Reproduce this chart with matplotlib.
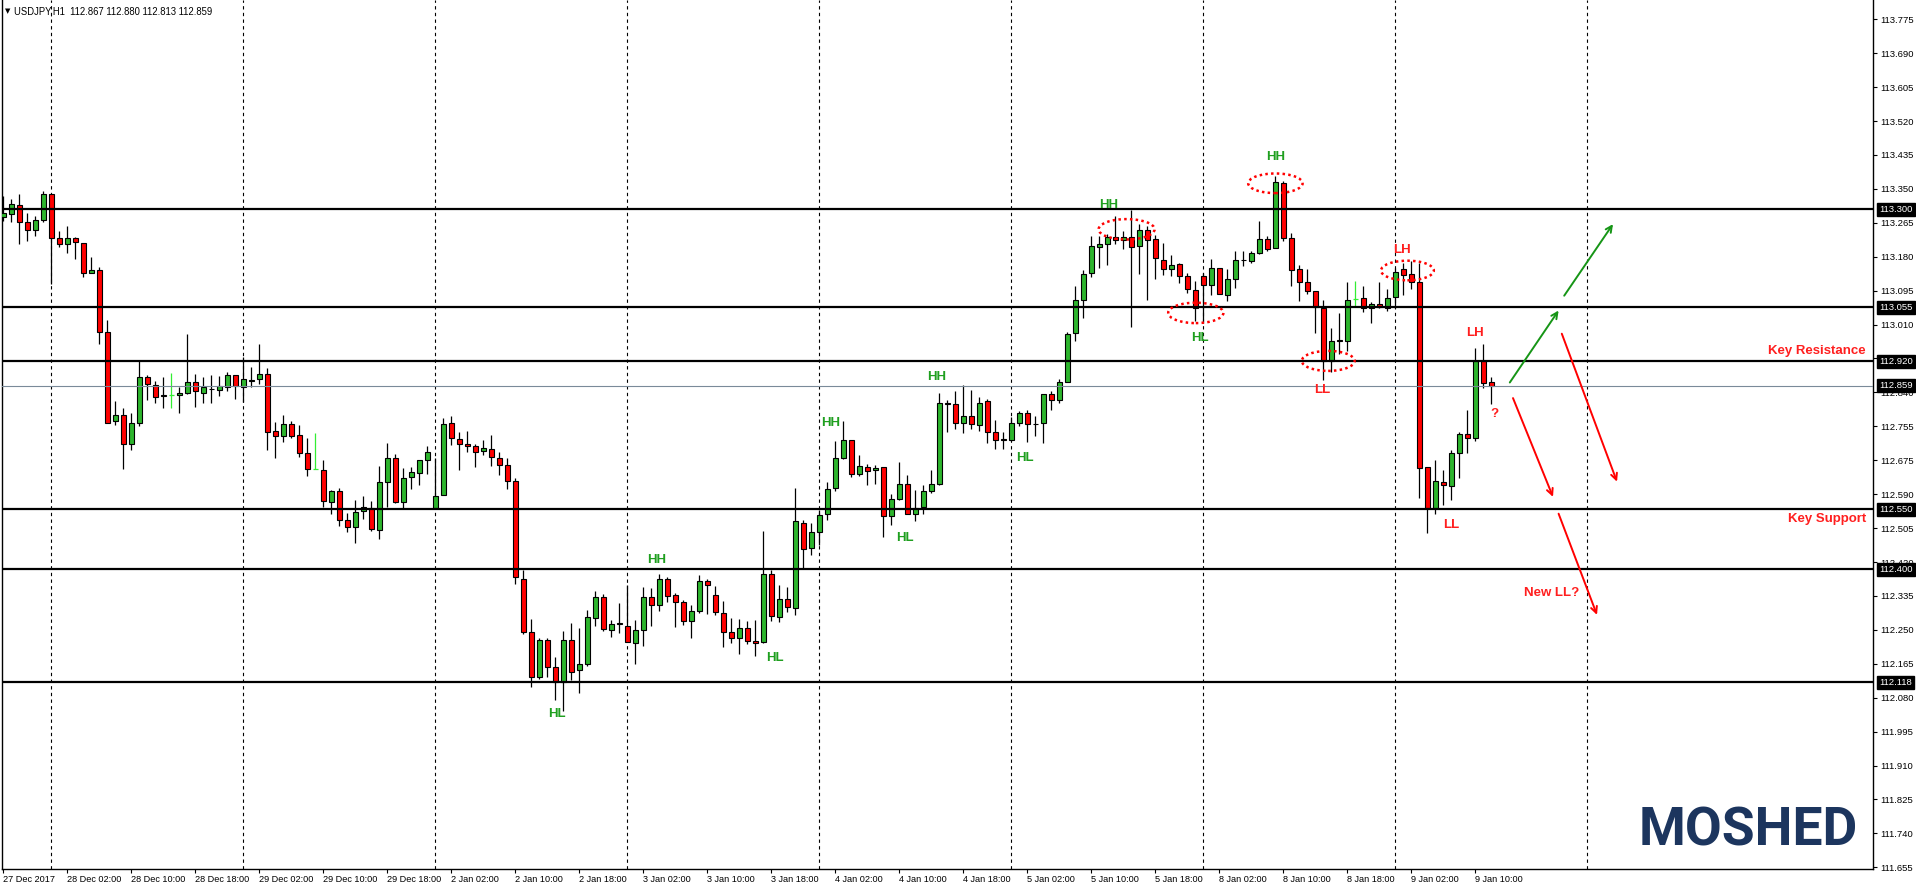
import matplotlib
matplotlib.use("Agg")
import matplotlib.pyplot as plt
from matplotlib.patches import Ellipse
import numpy as np

plt.rcParams['font.family'] = ['Liberation Sans', 'DejaVu Sans']

# ---------------- data (USDJPY H1) ----------------
opens = [113.280, 113.289, 113.312, 113.267, 113.249, 113.274, 113.338, 113.229, 113.212, 113.227,
         113.216, 113.141, 113.147, 112.992, 112.770, 112.785, 112.713, 112.766, 112.880, 112.860,
         112.835, 112.835, 112.835, 112.840, 112.869, 112.842, 112.851, 112.849, 112.855, 112.885,
         112.857, 112.872, 112.875, 112.888, 112.745, 112.734, 112.763, 112.735, 112.691, 112.651,
         112.648, 112.568, 112.595, 112.523, 112.506, 112.546, 112.553, 112.498, 112.618, 112.678,
         112.568, 112.630, 112.642, 112.673, 112.553, 112.585, 112.766, 112.726, 112.714, 112.708,
         112.695, 112.701, 112.678, 112.660, 112.620, 112.376, 112.244, 112.130, 112.224, 112.155,
         112.119, 112.224, 112.147, 112.164, 112.279, 112.331, 112.249, 112.264, 112.259, 112.217,
         112.249, 112.331, 112.311, 112.376, 112.336, 112.318, 112.271, 112.296, 112.371, 112.336,
         112.291, 112.244, 112.227, 112.253, 112.222, 112.219, 112.388, 112.281, 112.326, 112.304,
         112.517, 112.454, 112.493, 112.539, 112.603, 112.678, 112.723, 112.638, 112.655, 112.648,
         112.657, 112.533, 112.576, 112.613, 112.539, 112.555, 112.597, 112.613, 112.817, 112.813,
         112.767, 112.783, 112.760, 112.820, 112.743, 112.725, 112.723, 112.766, 112.791, 112.764,
         112.765, 112.838, 112.824, 112.869, 112.991, 113.074, 113.141, 113.206, 113.214, 113.231,
         113.224, 113.231, 113.208, 113.247, 113.225, 113.174, 113.151, 113.164, 113.134, 113.097,
         113.134, 113.111, 113.152, 113.086, 113.125, 113.174, 113.172, 113.190, 113.225, 113.204,
         113.366, 113.229, 113.151, 113.117, 113.097, 113.054, 112.922, 112.972, 112.972, 113.077,
         113.077, 113.052, 113.062, 113.052, 113.082, 113.150, 113.139, 113.118, 112.655, 112.553,
         112.618, 112.608, 112.690, 112.738, 112.729, 112.921, 112.867]
highs = [113.334, 113.327, 113.339, 113.291, 113.284, 113.345, 113.339, 113.245, 113.259, 113.231,
         113.216, 113.182, 113.157, 113.022, 112.821, 112.803, 112.791, 112.921, 112.885, 112.872,
         112.880, 112.892, 112.856, 112.988, 112.889, 112.880, 112.885, 112.883, 112.894, 112.887,
         112.931, 112.905, 112.963, 112.903, 112.768, 112.785, 112.771, 112.760, 112.728, 112.740,
         112.674, 112.598, 112.602, 112.541, 112.574, 112.584, 112.571, 112.659, 112.716, 112.689,
         112.653, 112.656, 112.674, 112.709, 112.677, 112.778, 112.783, 112.744, 112.746, 112.712,
         112.724, 112.736, 112.693, 112.678, 112.628, 112.397, 112.277, 112.229, 112.229, 112.180,
         112.245, 112.265, 112.254, 112.299, 112.347, 112.339, 112.274, 112.315, 112.361, 112.274,
         112.357, 112.352, 112.388, 112.381, 112.342, 112.324, 112.310, 112.387, 112.377, 112.359,
         112.321, 112.279, 112.277, 112.271, 112.274, 112.497, 112.397, 112.361, 112.356, 112.602,
         112.522, 112.515, 112.548, 112.618, 112.720, 112.771, 112.723, 112.685, 112.663, 112.660,
         112.657, 112.588, 112.668, 112.636, 112.599, 112.611, 112.648, 112.840, 112.824, 112.845,
         112.860, 112.848, 112.832, 112.827, 112.773, 112.742, 112.780, 112.796, 112.798, 112.783,
         112.839, 112.845, 112.875, 112.994, 113.108, 113.147, 113.234, 113.234, 113.238, 113.284,
         113.245, 113.299, 113.263, 113.258, 113.237, 113.216, 113.187, 113.165, 113.141, 113.122,
         113.140, 113.175, 113.152, 113.152, 113.195, 113.195, 113.195, 113.270, 113.234, 113.384,
         113.371, 113.241, 113.161, 113.152, 113.097, 113.072, 113.004, 113.040, 113.117, 113.120,
         113.108, 113.068, 113.117, 113.100, 113.154, 113.167, 113.170, 113.166, 112.655, 112.673,
         112.648, 112.698, 112.742, 112.799, 112.953, 112.962, 112.880]
lows = [113.270, 113.268, 113.214, 113.221, 113.233, 113.268, 113.114, 113.206, 113.192, 113.176,
        113.131, 113.140, 112.962, 112.765, 112.762, 112.652, 112.697, 112.759, 112.824, 112.815,
        112.802, 112.802, 112.791, 112.837, 112.807, 112.815, 112.815, 112.833, 112.847, 112.827,
        112.819, 112.855, 112.864, 112.697, 112.677, 112.719, 112.729, 112.682, 112.632, 112.651,
        112.557, 112.538, 112.507, 112.492, 112.465, 112.525, 112.495, 112.475, 112.557, 112.566,
        112.553, 112.600, 112.611, 112.639, 112.553, 112.585, 112.711, 112.647, 112.694, 112.657,
        112.685, 112.659, 112.637, 112.600, 112.363, 112.238, 112.106, 112.125, 112.131, 112.073,
        112.045, 112.123, 112.091, 112.158, 112.258, 112.245, 112.230, 112.241, 112.218, 112.163,
        112.208, 112.257, 112.296, 112.318, 112.256, 112.261, 112.228, 112.291, 112.288, 112.286,
        112.205, 112.216, 112.188, 112.213, 112.183, 112.217, 112.270, 112.268, 112.293, 112.285,
        112.401, 112.435, 112.461, 112.523, 112.597, 112.675, 112.630, 112.633, 112.610, 112.613,
        112.480, 112.510, 112.573, 112.538, 112.520, 112.537, 112.592, 112.610, 112.742, 112.750,
        112.740, 112.752, 112.747, 112.717, 112.702, 112.702, 112.721, 112.759, 112.719, 112.734,
        112.715, 112.799, 112.815, 112.869, 112.970, 113.029, 113.130, 113.153, 113.160, 113.213,
        113.200, 113.005, 113.138, 113.074, 113.127, 113.135, 113.132, 113.116, 113.090, 113.020,
        113.016, 113.086, 113.089, 113.071, 113.102, 113.158, 113.165, 113.188, 113.196, 113.203,
        113.221, 113.108, 113.071, 113.087, 112.991, 112.874, 112.894, 112.938, 112.946, 113.056,
        113.043, 113.016, 113.052, 113.047, 113.052, 113.086, 113.100, 112.579, 112.490, 112.538,
        112.562, 112.573, 112.628, 112.691, 112.722, 112.854, 112.813]
closes = [113.291, 113.313, 113.269, 113.249, 113.274, 113.338, 113.229, 113.212, 113.229, 113.219,
          113.141, 113.149, 112.992, 112.766, 112.785, 112.713, 112.765, 112.880, 112.863, 112.832,
          112.834, 112.835, 112.842, 112.867, 112.845, 112.856, 112.850, 112.857, 112.885, 112.859,
          112.875, 112.873, 112.888, 112.742, 112.734, 112.763, 112.734, 112.691, 112.651, 112.651,
          112.571, 112.595, 112.523, 112.506, 112.543, 112.555, 112.501, 112.618, 112.678, 112.568,
          112.628, 112.644, 112.673, 112.693, 112.583, 112.763, 112.728, 112.712, 112.708, 112.694,
          112.703, 112.680, 112.660, 112.620, 112.381, 112.243, 112.130, 112.224, 112.155, 112.119,
          112.224, 112.144, 112.164, 112.281, 112.331, 112.252, 112.264, 112.265, 112.219, 112.249,
          112.331, 112.311, 112.376, 112.334, 112.318, 112.271, 112.296, 112.371, 112.361, 112.294,
          112.242, 112.229, 112.252, 112.220, 112.217, 112.388, 112.284, 112.326, 112.306, 112.521,
          112.452, 112.493, 112.536, 112.601, 112.677, 112.723, 112.638, 112.658, 112.645, 112.652,
          112.533, 112.576, 112.613, 112.539, 112.553, 112.595, 112.613, 112.817, 112.813, 112.766,
          112.783, 112.763, 112.815, 112.742, 112.723, 112.724, 112.765, 112.791, 112.763, 112.763,
          112.838, 112.824, 112.869, 112.989, 113.072, 113.139, 113.207, 113.214, 113.230, 113.223,
          113.231, 113.206, 113.247, 113.223, 113.178, 113.151, 113.161, 113.133, 113.100, 113.052,
          113.111, 113.152, 113.089, 113.125, 113.174, 113.173, 113.191, 113.225, 113.202, 113.369,
          113.229, 113.149, 113.117, 113.097, 113.055, 112.922, 112.972, 112.971, 113.072, 113.077,
          113.052, 113.064, 113.055, 113.079, 113.144, 113.136, 113.119, 112.653, 112.553, 112.620,
          112.610, 112.690, 112.738, 112.729, 112.921, 112.866, 112.859]

level_prices = [113.300, 113.055, 112.920, 112.550, 112.400, 112.118]
bid_price = 112.859
day_starts = [6, 30, 54, 78, 102, 126, 150, 174, 198]
xtick_idx = list(range(0, 185, 8))
xtick_labels = ["27 Dec 2017", "28 Dec 02:00", "28 Dec 10:00", "28 Dec 18:00", "29 Dec 02:00",
                "29 Dec 10:00", "29 Dec 18:00", "2 Jan 02:00", "2 Jan 10:00", "2 Jan 18:00",
                "3 Jan 02:00", "3 Jan 10:00", "3 Jan 18:00", "4 Jan 02:00", "4 Jan 10:00",
                "4 Jan 18:00", "5 Jan 02:00", "5 Jan 10:00", "5 Jan 18:00", "8 Jan 02:00",
                "8 Jan 10:00", "8 Jan 18:00", "9 Jan 02:00", "9 Jan 10:00"]
ytick_labels = ["113.775", "113.690", "113.605", "113.520", "113.435", "113.350", "113.265",
                "113.180", "113.095", "113.010", "112.925", "112.840", "112.755", "112.675",
                "112.590", "112.505", "112.420", "112.335", "112.250", "112.165", "112.080",
                "111.995", "111.910", "111.825", "111.740", "111.655"]
ytick_top, ytick_bottom = 113.775, 111.655
header = "USDJPY,H1  112.867 112.880 112.813 112.859"

# ---------------- styling ----------------
BULL = '#2db52d'
BEAR = '#ff0000'
DOJI = '#33ee33'
GREEN_TXT = '#1f9f1f'
RED_TXT = '#ff1f1f'

FW, FH = 1916, 891
fig = plt.figure(figsize=(FW / 100, FH / 100), dpi=100)
ax_l, ax_r, ax_b, ax_t = 2, 1873, 869, 0
ax = fig.add_axes([ax_l / FW, (FH - ax_b) / FH, (ax_r - ax_l) / FW, (ax_b - ax_t) / FH])

bar_px, first_px = 8.0, 3.4
ax.set_xlim((ax_l - first_px) / bar_px, (ax_r - first_px) / bar_px)
ppu, ref_px, ref_price = 400.0, 867.3, 111.655
ax.set_ylim(ref_price + (ref_px - ax_b) / ppu, ref_price + (ref_px - ax_t) / ppu)

o = np.array(opens); h = np.array(highs); l = np.array(lows); c = np.array(closes)
idx = np.arange(len(o))

# day separators
for d in day_starts:
    ax.axvline(d, color='black', lw=0.8, ls=(0, (3, 3)), zorder=1)

# candles
exact = o == c
wick_col = np.where(exact, DOJI, 'black')
ax.vlines(idx, l, h, colors=list(wick_col), lw=0.9, zorder=2)
body_col = np.where(c > o, BULL, BEAR)
nz = ~exact
ax.bar(idx[nz], np.abs(c - o)[nz], bottom=np.minimum(o, c)[nz], width=0.56,
       color=list(body_col[nz]), edgecolor='black', linewidth=0.8, zorder=3)
ax.hlines(o[exact], idx[exact] - 0.3, idx[exact] + 0.3, colors=DOJI, lw=0.9, zorder=3)

# levels
for p in level_prices:
    ax.axhline(p, color='black', lw=1.6, zorder=4)
ax.axhline(bid_price, color='#7a8a99', lw=0.8, zorder=4)

# axes / ticks
ax.spines['top'].set_visible(False)
for s in ['left', 'right', 'bottom']:
    ax.spines[s].set_linewidth(1.0)
ax.yaxis.tick_right()
ax.set_yticks(np.linspace(ytick_top, ytick_bottom, len(ytick_labels)))
ax.set_yticklabels(ytick_labels)
ax.tick_params(axis='y', direction='out', length=3, width=0.8, pad=2, labelsize=6.8)
ax.set_xticks(xtick_idx)
ax.set_xticklabels(xtick_labels)
ax.tick_params(axis='x', direction='out', length=3, width=0.8, pad=1.5, labelsize=6.6)
for t in ax.get_xticklabels():
    t.set_horizontalalignment('left')

# price boxes
for p in level_prices + [bid_price]:
    ax.annotate(f"{p:.3f}", xy=(1, p), xycoords=('axes fraction', 'data'),
                xytext=(4.5, 0), textcoords='offset points', ha='left', va='center',
                fontsize=6.8, color='white', annotation_clip=False, zorder=10,
                bbox=dict(boxstyle='square,pad=0.22', fc='black', ec='black'))

# header
fig.text(5 / FW, 1 - 11 / FH, '\u25BC', fontsize=5, family='DejaVu Sans', va='center', ha='left')
fig.text(14 / FW, 1 - 11 / FH, header, fontsize=6.85, va='center', ha='left')

# swing labels
green_lbls = [("HH", 81.6, 112.424), ("HL", 69.2, 112.039), ("HL", 96.5, 112.178),
              ("HH", 103.45, 112.765), ("HL", 112.7, 112.477), ("HH", 116.7, 112.880),
              ("HL", 127.7, 112.677), ("HH", 138.2, 113.312), ("HL", 149.6, 112.979),
              ("HH", 159.0, 113.432)]
red_lbls = [("LH", 174.8, 113.198), ("LL", 164.9, 112.848), ("LH", 183.9, 112.991),
            ("LL", 181.0, 112.511), ("?", 186.4, 112.789), ("New LL?", 193.5, 112.341)]
for t, x, y in green_lbls:
    ax.text(x, y, t, color=GREEN_TXT, fontsize=9.5, weight='bold', ha='center', va='center', zorder=6)
for t, x, y in red_lbls:
    ax.text(x, y, t, color=RED_TXT, fontsize=9.5, weight='bold', ha='center', va='center', zorder=6)
ax.text(232.8, 112.946, "Key Resistance", color=RED_TXT, fontsize=9.5, weight='bold',
        ha='right', va='center', zorder=6)
ax.text(232.8, 112.526, "Key Support", color=RED_TXT, fontsize=9.5, weight='bold',
        ha='right', va='center', zorder=6)

# ellipses
for cx, cy, w, hh in [(140.4, 113.250, 7.0, 0.051), (149.05, 113.041, 6.9, 0.051),
                      (159.0, 113.365, 6.8, 0.049), (175.5, 113.147, 6.6, 0.049),
                      (165.6, 112.921, 6.6, 0.050)]:
    ax.add_patch(Ellipse((cx, cy), w, hh, fill=False, ec='#ff0000', lw=1.8,
                         ls=(0, (1.0, 1.3)), zorder=6))

# arrows
arrows = [((188.3, 112.867), (194.4, 113.047), '#169516'),
          ((195.1, 113.084), (201.2, 113.263), '#169516'),
          ((188.7, 112.828), (193.7, 112.581), '#ff0000'),
          ((194.8, 112.989), (201.7, 112.619), '#ff0000'),
          ((194.4, 112.539), (199.2, 112.286), '#ff0000')]
for (x0, y0), (x1, y1), col in arrows:
    ax.annotate('', xy=(x1, y1), xytext=(x0, y0),
                arrowprops=dict(arrowstyle='->,head_length=0.45,head_width=0.22', color=col, lw=1.4,
                                shrinkA=0, shrinkB=0), zorder=6)

# logo
fig.text(1858 / FW, 1 - 831 / FH, 'MOSHED', ha='right', va='center', fontsize=38.5,
         weight='bold', family='Roboto', color='#1c355e')

fig.savefig('out.png', dpi=100)
